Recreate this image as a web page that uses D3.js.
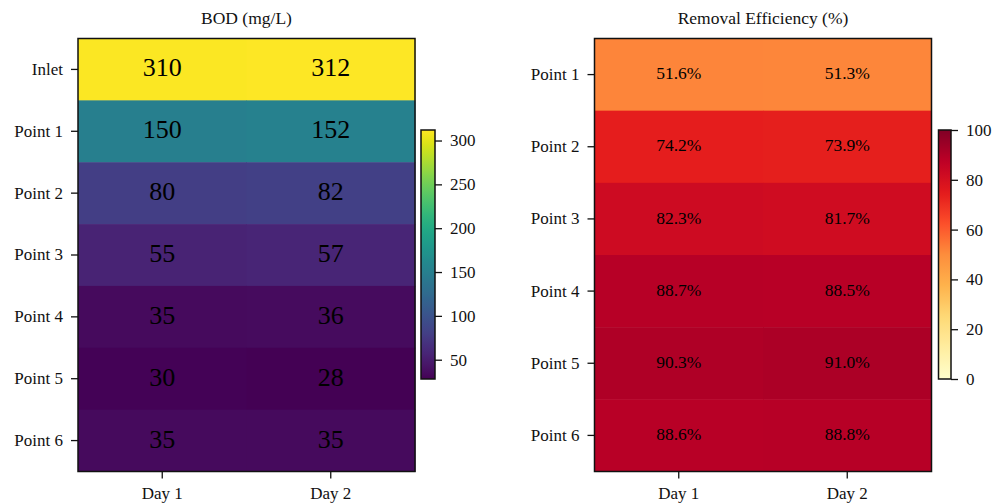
<!DOCTYPE html>
<html>
<head>
<meta charset="utf-8">
<script src="https://cdn.jsdelivr.net/npm/d3@7"></script>
<style>
  html, body { margin: 0; padding: 0; background: #fff; }
  svg { display: block; font-family: "Liberation Serif", "DejaVu Serif", serif; }
  .tick text { font-size: 17px; fill: #111; font-family: "Liberation Serif", "DejaVu Serif", serif; }
  .tick line { stroke: #111; stroke-width: 1.3px; }
  .domain { display: none; }
</style>
</head>
<body>
<svg id="chart" width="992" height="504"></svg>
<script>
// BOD readings along the treatment line (mg/L)
const days = ["Day 1", "Day 2"];
const bodSites = ["Inlet", "Point 1", "Point 2", "Point 3", "Point 4", "Point 5", "Point 6"];
const bodDay1 = [310, 150, 80, 55, 35, 30, 35];
const bodDay2 = [312, 152, 82, 57, 36, 28, 35];

// Removal efficiency relative to the inlet (%)
const effSites = ["Point 1", "Point 2", "Point 3", "Point 4", "Point 5", "Point 6"];
const effDay1 = [51.6, 74.2, 82.3, 88.7, 90.3, 88.6];
const effDay2 = [51.3, 73.9, 81.7, 88.5, 91.0, 88.8];

const bodTicks = [50, 100, 150, 200, 250, 300];
const effTicks = [0, 20, 40, 60, 80, 100];

const svg = d3.select("#chart");
const defs = svg.append("defs");

// YlOrRd stops (ColorBrewer 9-class), interpolated linearly
const ylOrRdStops = ["#ffffcc", "#ffeda0", "#fed976", "#feb24c", "#fd8d3c", "#fc4e2a", "#e31a1c", "#bd0026", "#800026"];
const ylOrRd = t => d3.scaleLinear()
  .domain(d3.range(ylOrRdStops.length).map(i => i / (ylOrRdStops.length - 1)))
  .range(ylOrRdStops)
  .interpolate(d3.interpolateRgb)(t);

function toCells(sites, d1, d2) {
  const cells = [];
  sites.forEach((s, i) => {
    cells.push({ site: s, day: days[0], value: d1[i] });
    cells.push({ site: s, day: days[1], value: d2[i] });
  });
  return cells;
}

function styleAxis(sel) {
  sel.attr("font-family", null).attr("font-size", null);
}

function heatmap(opts) {
  const { x0, x1, y0, y1, sites, cells, color, fmt, labelSize, title,
          cb, cbDomain, cbTicks, cbInterp, gradId } = opts;

  const g = svg.append("g");
  const x = d3.scaleBand().domain(days).range([x0, x1]).padding(0);
  const y = d3.scaleBand().domain(sites).range([y0, y1]).padding(0);

  g.selectAll("rect.cell").data(cells).join("rect")
    .attr("class", "cell")
    .attr("x", d => x(d.day))
    .attr("y", d => y(d.site))
    .attr("width", x.bandwidth() + 0.5)
    .attr("height", y.bandwidth() + 0.5)
    .attr("fill", d => color(d.value));

  g.selectAll("text.val").data(cells).join("text")
    .attr("class", "val")
    .attr("x", d => x(d.day) + x.bandwidth() / 2)
    .attr("y", d => y(d.site) + y.bandwidth() / 2)
    .attr("dy", "0.27em")
    .attr("text-anchor", "middle")
    .attr("font-size", labelSize)
    .attr("fill", "#000")
    .text(d => fmt(d.value));

  g.append("rect")
    .attr("x", x0).attr("y", y0)
    .attr("width", x1 - x0).attr("height", y1 - y0)
    .attr("fill", "none").attr("stroke", "#111").attr("stroke-width", 1.5);

  g.append("g")
    .attr("transform", `translate(${x0},0)`)
    .call(d3.axisLeft(y).tickSize(7).tickPadding(8))
    .call(styleAxis);

  g.append("g")
    .attr("transform", `translate(0,${y1})`)
    .call(d3.axisBottom(x).tickSize(7).tickPadding(8))
    .call(styleAxis);

  g.append("text")
    .attr("x", (x0 + x1) / 2).attr("y", 24)
    .attr("text-anchor", "middle")
    .attr("font-size", 17.5)
    .attr("fill", "#111")
    .text(title);

  // colour bar
  const grad = defs.append("linearGradient")
    .attr("id", gradId)
    .attr("x1", 0).attr("y1", 1).attr("x2", 0).attr("y2", 0);
  d3.range(0, 1.0001, 0.02).forEach(t => {
    grad.append("stop")
      .attr("offset", t)
      .attr("stop-color", cbInterp(cbDomain[0] + t * (cbDomain[1] - cbDomain[0])));
  });
  const cy = d3.scaleLinear().domain(cbDomain).range([cb.y1, cb.y0]);
  g.append("rect")
    .attr("x", cb.x0).attr("y", cb.y0)
    .attr("width", cb.x1 - cb.x0).attr("height", cb.y1 - cb.y0)
    .attr("fill", `url(#${gradId})`)
    .attr("stroke", "#111").attr("stroke-width", 1.5);
  g.append("g")
    .attr("transform", `translate(${cb.x1},0)`)
    .call(d3.axisRight(cy).tickValues(cbTicks).tickSize(7).tickPadding(8).tickFormat(d3.format("d")))
    .call(styleAxis);
}

// BOD panel (viridis, scaled to the data range)
const bodCells = toCells(bodSites, bodDay1, bodDay2);
const bodExtent = d3.extent(bodDay1.concat(bodDay2));
const bodColor = d3.scaleSequential(d3.interpolateViridis).domain(bodExtent);
heatmap({
  x0: 78, x1: 415, y0: 38.5, y1: 471.5,
  sites: bodSites, cells: bodCells, color: bodColor,
  fmt: d3.format("d"), labelSize: 26, title: "BOD (mg/L)",
  cb: { x0: 421, x1: 435, y0: 130, y1: 379 },
  cbDomain: bodExtent, cbTicks: bodTicks, cbInterp: bodColor, gradId: "gBod"
});

// Removal efficiency panel (YlOrRd, 0–100 %)
const effCells = toCells(effSites, effDay1, effDay2);
const effColor = d3.scaleSequential(ylOrRd).domain([0, 100]);
heatmap({
  x0: 594.5, x1: 931.5, y0: 38.5, y1: 471.5,
  sites: effSites, cells: effCells, color: effColor,
  fmt: v => v.toFixed(1) + "%", labelSize: 17.5, title: "Removal Efficiency (%)",
  cb: { x0: 938.5, x1: 951, y0: 130, y1: 379 },
  cbDomain: [0, 100], cbTicks: effTicks, cbInterp: effColor, gradId: "gEff"
});
</script>
</body>
</html>
